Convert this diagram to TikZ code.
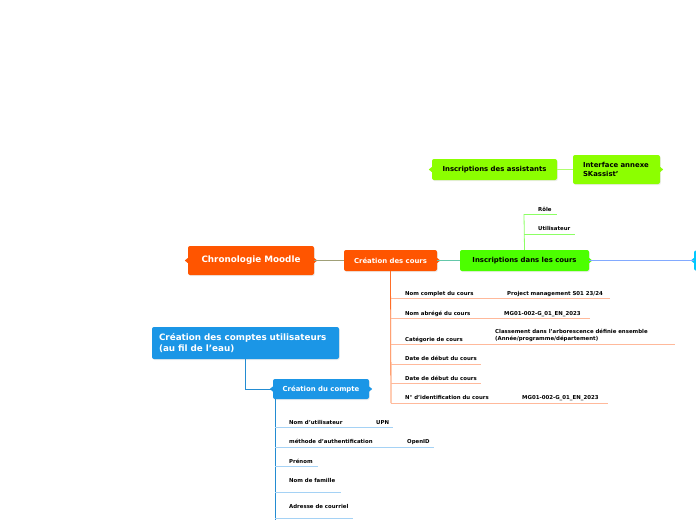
\documentclass[tikz,border=0pt]{standalone}
\usepackage{fontspec}
\setmainfont{DejaVu Sans}
\usetikzlibrary{shadows}
\definecolor{moodleorange}{RGB}{255,85,0}
\definecolor{coursgreen}{RGB}{76,255,0}
\definecolor{assistlime}{RGB}{140,255,0}
\definecolor{comptesblue}{RGB}{27,150,230}
\definecolor{rightcyan}{RGB}{0,200,255}
\definecolor{olivelink}{RGB}{160,160,120}
\definecolor{teallink}{RGB}{100,200,170}
\definecolor{bluelink}{RGB}{130,170,255}
\definecolor{limelink}{RGB}{175,255,110}
\definecolor{greentrunk}{RGB}{140,255,100}
\definecolor{orangetrunk}{RGB}{255,110,40}
\definecolor{orangeunder}{RGB}{255,185,155}
\definecolor{bluetrunk}{RGB}{35,140,210}
\definecolor{blueunder}{RGB}{165,210,245}

\tikzset{
  topic/.style={rectangle, rounded corners=2pt, inner sep=0pt,
    font=\bfseries\fontsize{6.9}{8.5}\selectfont,
    drop shadow={opacity=0.15, shadow xshift=0.8pt, shadow yshift=-1pt}},
  item/.style={anchor=base west, inner sep=0pt, font=\bfseries\fontsize{5.4}{7.6}\selectfont},
}

\begin{document}
\begin{tikzpicture}[x=1pt,y=-1pt]
\useasboundingbox (0,0) rectangle (696,520);
\clip (0,0) rectangle (696,520);

% main topics
\node[topic, fill=moodleorange, text=white, minimum width=126pt, minimum height=29pt,
      font=\bfseries\fontsize{8.8}{10}\selectfont] (chrono) at (251,260.5) {Chronologie Moodle};
\node[topic, fill=moodleorange, text=white, minimum width=93pt, minimum height=21pt] (creacours) at (390.5,260.5) {Création des cours};
\node[topic, fill=coursgreen, minimum width=129pt, minimum height=21pt] (inscours) at (524.5,260.5) {Inscriptions dans les cours};
\node[topic, fill=assistlime, minimum width=125pt, minimum height=21pt] (insassist) at (494.5,169.5) {Inscriptions des assistants};
\node[topic, fill=assistlime, minimum width=87pt, minimum height=29pt, align=left,
      text width=67pt] (annexe) at (616.5,169.5) {Interface annexe\\SKassist'};
\node[topic, fill=rightcyan, minimum width=60pt, minimum height=20pt] (suite) at (724,260.5) {};
\node[topic, fill=comptesblue, text=white, minimum width=187pt, minimum height=32pt, align=left,
      text width=173pt, font=\bfseries\fontsize{8.8}{10.5}\selectfont] (comptes) at (245.5,343) {Création des comptes utilisateurs\\(au fil de l'eau)};
\node[topic, fill=comptesblue, text=white, minimum width=96pt, minimum height=20pt] (compte) at (321,389) {Création du compte};

% notches
\fill[moodleorange] (chrono.west) ++(0,-2.5) -- ++(-3,2.5) -- ++(3,2.5) -- cycle;
\fill[moodleorange] (chrono.east) ++(0,-2.5) -- ++(3,2.5) -- ++(-3,2.5) -- cycle;
\fill[moodleorange] (creacours.east) ++(0,-2.5) -- ++(3,2.5) -- ++(-3,2.5) -- cycle;
\fill[coursgreen] (inscours.east) ++(0,-2.5) -- ++(3,2.5) -- ++(-3,2.5) -- cycle;
\fill[assistlime] (insassist.west) ++(0,-2.5) -- ++(-3,2.5) -- ++(3,2.5) -- cycle;
\fill[assistlime] (annexe.east) ++(0,-2.5) -- ++(3,2.5) -- ++(-3,2.5) -- cycle;
\fill[rightcyan] (suite.west) ++(0,-2.5) -- ++(-3,2.5) -- ++(3,2.5) -- cycle;
\fill[comptesblue] (compte.west) ++(0,-2.5) -- ++(-3,2.5) -- ++(3,2.5) -- cycle;
\fill[comptesblue] (compte.east) ++(0,-2.5) -- ++(3,2.5) -- ++(-3,2.5) -- cycle;

% links between topics
\draw[olivelink, line width=0.9pt] (chrono.east) -- (creacours.west);
\draw[teallink, line width=0.9pt] (creacours.east) -- (inscours.west);
\draw[bluelink, line width=0.9pt] (inscours.east) -- (suite.west);
\draw[limelink, line width=0.8pt] (insassist.east) -- (annexe.west);
\draw[bluetrunk, line width=0.8pt] (comptes.south) |- (compte.west);

% inscriptions dans les cours
\coordinate (gtop) at (524,214);
\draw[greentrunk, line width=0.8pt] (inscours.north) -- (gtop);
\node[item] (role) at (538,211) {Rôle};
\node[item] (util) at (538,230) {Utilisateur};
\draw[greentrunk, line width=0.6pt] (gtop) -- (557,214);
\draw[greentrunk, line width=0.6pt] (524,234) -- (575,234);

% creation des cours
\coordinate (obot) at (391,403);
\draw[orangetrunk, line width=0.8pt] (creacours.south) -- (obot);
\node[item] (nomcomplet) at (405,295) {Nom complet du cours};
\node[item] (nomcompletv) at (507,295) {Project management S01 23/24};
\node[item] (nomabrege) at (405,315) {Nom abrégé du cours};
\node[item] (nomabregev) at (504,315) {MG01-002-G\_01\_EN\_2023};
\node[item] (categorie) at (405,341) {Catégorie de cours};
\node[item, anchor=south west, align=left] (categoriev) at (495,342) {Classement dans l'arborescence définie ensemble\\(Année/programme/département)};
\node[item] (datedebut) at (405,360) {Date de début du cours};
\node[item] (datedebutb) at (405,380) {Date de début du cours};
\node[item] (numid) at (405,399) {N° d'identification du cours};
\node[item] (numidv) at (522,399) {MG01-002-G\_01\_EN\_2023};
\draw[orangeunder, line width=0.6pt] (391,298) -- (610,298);
\draw[orangeunder, line width=0.6pt] (391,318) -- (590,318);
\draw[orangeunder, line width=0.6pt] (391,344) -- (675,344);
\draw[orangeunder, line width=0.6pt] (391,364) -- (481,364);
\draw[orangeunder, line width=0.6pt] (391,383) -- (481,383);
\draw[orangeunder, line width=0.6pt] (obot) -- (608,403);

% creation du compte
\coordinate (btop) at (275,399);
\draw[bluetrunk, line width=0.8pt] (btop) -- (275,520);
\node[item] (nomutil) at (289,424) {Nom d'utilisateur};
\node[item] (nomutilv) at (376,424) {UPN};
\node[item] (methode) at (289,443) {méthode d'authentification};
\node[item] (methodev) at (407,443) {OpenID};
\node[item] (prenom) at (289,463) {Prénom};
\node[item] (famille) at (289,482) {Nom de famille};
\node[item] (courriel) at (289,508) {Adresse de courriel};
\draw[blueunder, line width=0.6pt] (275,427) -- (393,427);
\draw[blueunder, line width=0.6pt] (275,447) -- (434,447);
\draw[blueunder, line width=0.6pt] (275,466) -- (318,466);
\draw[blueunder, line width=0.6pt] (275,492) -- (341,492);
\draw[blueunder, line width=0.6pt] (275,518) -- (353,518);
\end{tikzpicture}
\end{document}
